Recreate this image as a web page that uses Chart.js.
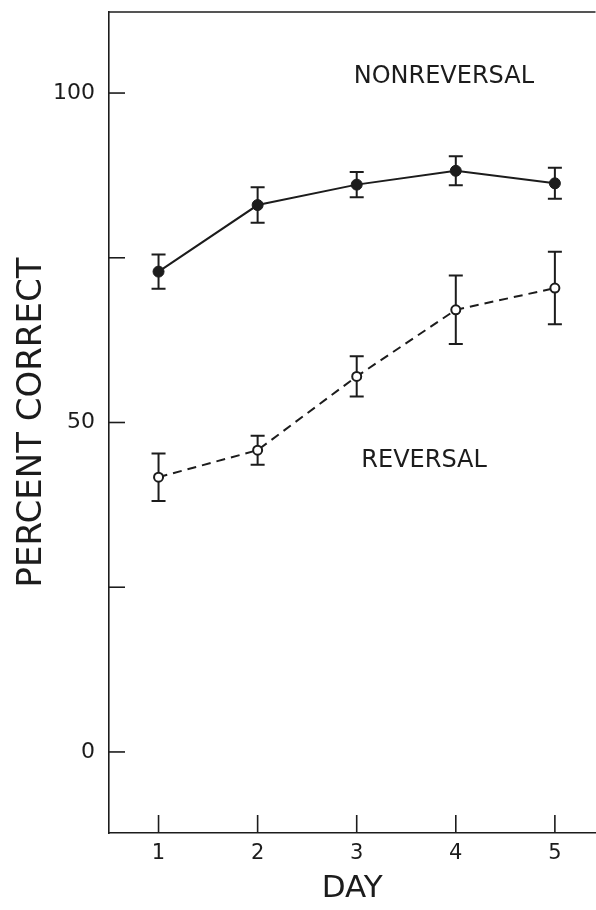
<!DOCTYPE html>
<html>
<head>
<meta charset="utf-8">
<script src="https://cdn.jsdelivr.net/npm/chart.js@4"></script>
<style>
  html, body { margin: 0; padding: 0; background: #fff; overflow: hidden; }
  /* a few px wider than the window: the frame runs off the right edge as in the scan */
  #wrap { width: 602px; height: 910px; }
</style>
</head>
<body>
<div id="wrap"><canvas id="myChart"></canvas></div>
<script>
const days = [1, 2, 3, 4, 5];
const nonreversalMean = [72.9, 83.0, 86.1, 88.2, 86.3];
const nonreversalErr = [2.6, 2.7, 1.9, 2.2, 2.35];
const reversalMean = [41.7, 45.8, 57.0, 67.1, 70.4];
const reversalErr = [3.6, 2.2, 3.05, 5.2, 5.5];
const yTicks = [0, 25, 50, 75, 100];
const yLabels = [0, 50, 100];

const ink = "#1c1c1c";
const font = "'DejaVu Sans', sans-serif";

function toPoints(means) {
  return days.map((d, i) => ({ x: d, y: means[i] }));
}

// error bars, inside tick marks, top frame line and the two curve labels
const extras = {
  id: "extras",
  beforeDatasetsDraw(chart) {
    const { ctx, chartArea, scales } = chart;
    const x = scales.x, y = scales.y;
    ctx.save();
    ctx.strokeStyle = ink;
    ctx.lineWidth = 1.6;

    // top frame line
    ctx.beginPath();
    ctx.moveTo(chartArea.left, chartArea.top);
    ctx.lineTo(chartArea.right, chartArea.top);
    ctx.stroke();

    // inside ticks
    yTicks.forEach((v) => {
      const py = y.getPixelForValue(v);
      ctx.beginPath();
      ctx.moveTo(chartArea.left, py);
      ctx.lineTo(chartArea.left + 16, py);
      ctx.stroke();
    });
    days.forEach((d) => {
      const px = x.getPixelForValue(d);
      ctx.beginPath();
      ctx.moveTo(px, chartArea.bottom);
      ctx.lineTo(px, chartArea.bottom - 18);
      ctx.stroke();
    });

    // error bars
    ctx.lineWidth = 2;
    const bars = [[nonreversalMean, nonreversalErr], [reversalMean, reversalErr]];
    bars.forEach(([m, e]) => {
      days.forEach((d, i) => {
        const px = x.getPixelForValue(d);
        const top = y.getPixelForValue(m[i] + e[i]);
        const bot = y.getPixelForValue(m[i] - e[i]);
        ctx.beginPath();
        ctx.moveTo(px, top);
        ctx.lineTo(px, bot);
        ctx.moveTo(px - 7, top);
        ctx.lineTo(px + 7, top);
        ctx.moveTo(px - 7, bot);
        ctx.lineTo(px + 7, bot);
        ctx.stroke();
      });
    });

    // curve labels
    ctx.fillStyle = ink;
    ctx.font = "24px " + font;
    ctx.textAlign = "center";
    ctx.textBaseline = "middle";
    ctx.fillText("NONREVERSAL", x.getPixelForValue(3.88), y.getPixelForValue(102.4));
    ctx.fillText("REVERSAL", x.getPixelForValue(3.68), y.getPixelForValue(44.2));
    ctx.restore();
  },
};

new Chart("myChart", {
  type: "line",
  data: {
    datasets: [
      {
        label: "NONREVERSAL",
        data: toPoints(nonreversalMean),
        borderColor: ink,
        borderWidth: 2,
        pointRadius: 5.5,
        pointBackgroundColor: ink,
        pointBorderColor: ink,
        pointBorderWidth: 1,
        tension: 0,
      },
      {
        label: "REVERSAL",
        data: toPoints(reversalMean),
        borderColor: ink,
        borderWidth: 2,
        borderDash: [9, 6],
        pointRadius: 4.5,
        pointBackgroundColor: "#fff",
        pointBorderColor: ink,
        pointBorderWidth: 2,
        tension: 0,
      },
    ],
  },
  options: {
    responsive: true,
    maintainAspectRatio: false,
    animation: false,
    layout: { padding: { top: 12, right: 0, bottom: 0, left: 0 } },
    plugins: {
      legend: { display: false },
      tooltip: { enabled: false },
    },
    scales: {
      x: {
        type: "linear",
        min: 0.5,
        max: 5.41,
        afterFit(scale) {
          scale.height = 77;
          scale.paddingLeft = 0;
          scale.paddingRight = 0;
        },
        afterBuildTicks(scale) { scale.ticks = days.map((v) => ({ value: v })); },
        grid: { display: false, drawTicks: false },
        border: { display: true, color: ink, width: 1.6 },
        ticks: { color: ink, padding: 8, font: { family: font, size: 21 } },
        title: {
          display: true,
          text: "DAY",
          color: ink,
          padding: { top: 0, bottom: 2 },
          font: { family: font, size: 31 },
        },
      },
      y: {
        min: -12.3,
        max: 112.3,
        afterFit(scale) {
          scale.width = 109;
          scale.paddingTop = 0;
          scale.paddingBottom = 0;
        },
        afterBuildTicks(scale) { scale.ticks = yTicks.map((v) => ({ value: v })); },
        grid: { display: false, drawTicks: false },
        border: { display: true, color: ink, width: 1.6 },
        ticks: {
          color: ink,
          padding: 14,
          font: { family: font, size: 22 },
          callback: (v) => (yLabels.includes(v) ? String(v) : ""),
        },
        title: {
          display: true,
          text: "PERCENT CORRECT",
          color: ink,
          padding: { top: 12, bottom: 0 },
          font: { family: font, size: 34 },
        },
      },
    },
  },
  plugins: [extras],
});
</script>
</body>
</html>
